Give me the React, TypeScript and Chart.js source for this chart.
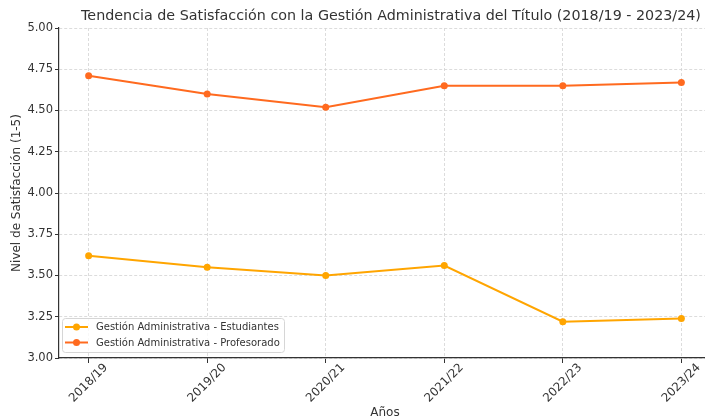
import React, { useEffect, useRef } from "react";
import { Chart, registerables } from "chart.js";

Chart.register(...registerables);

const years = ["2018/19", "2019/20", "2020/21", "2021/22", "2022/23", "2023/24"];
const estudiantes = [3.62, 3.55, 3.5, 3.56, 3.22, 3.24];
const profesorado = [4.71, 4.6, 4.52, 4.65, 4.65, 4.67];
const yTickValues = [3.0, 3.25, 3.5, 3.75, 4.0, 4.25, 4.5, 4.75, 5.0];
const seriesLabels = [
  "Gestión Administrativa - Estudiantes",
  "Gestión Administrativa - Profesorado",
];
const seriesColors = ["#FFA500", "#FF6A1F"];
const chartTitle =
  "Tendencia de Satisfacción con la Gestión Administrativa del Título (2018/19 - 2023/24)";
const xTitle = "Años";
const yTitle = "Nivel de Satisfacción (1-5)";

const FONT = "'DejaVu Sans', 'Liberation Sans', sans-serif";
const TEXT = "#333333";

const textPlugin = {
  id: "mplText",
  afterDraw(chart: any) {
    const ctx = chart.ctx as CanvasRenderingContext2D;
    const area = chart.chartArea;
    const xs = chart.scales.x;
    const cx = (area.left + area.right) / 2;
    ctx.save();
    ctx.fillStyle = TEXT;
    // title
    ctx.font = `14.3px ${FONT}`;
    ctx.textAlign = "center";
    ctx.textBaseline = "middle";
    ctx.fillText(chartTitle, 391, 16);
    // x tick labels
    ctx.font = `11.8px ${FONT}`;
    years.forEach((lab, i) => {
      const px = xs.getPixelForValue(i);
      ctx.save();
      ctx.translate(px, 383);
      ctx.rotate(-Math.PI / 4);
      ctx.textAlign = "center";
      ctx.textBaseline = "middle";
      ctx.fillText(lab, 0, 0);
      ctx.restore();
    });
    // x title
    ctx.font = `12px ${FONT}`;
    ctx.fillText(xTitle, cx, 413);
    // y title
    ctx.save();
    ctx.translate(17, (area.top + area.bottom) / 2);
    ctx.rotate(-Math.PI / 2);
    ctx.textAlign = "center";
    ctx.textBaseline = "middle";
    ctx.fillText(yTitle, 0, 0);
    ctx.restore();
    // legend
    const lx = 62.5, ly = 318.5, lw = 222, lh = 34, r = 3;
    ctx.beginPath();
    ctx.moveTo(lx + r, ly);
    ctx.lineTo(lx + lw - r, ly);
    ctx.quadraticCurveTo(lx + lw, ly, lx + lw, ly + r);
    ctx.lineTo(lx + lw, ly + lh - r);
    ctx.quadraticCurveTo(lx + lw, ly + lh, lx + lw - r, ly + lh);
    ctx.lineTo(lx + r, ly + lh);
    ctx.quadraticCurveTo(lx, ly + lh, lx, ly + lh - r);
    ctx.lineTo(lx, ly + r);
    ctx.quadraticCurveTo(lx, ly, lx + r, ly);
    ctx.closePath();
    ctx.fillStyle = "rgba(255,255,255,0.8)";
    ctx.fill();
    ctx.strokeStyle = "#d6d6d6";
    ctx.lineWidth = 1;
    ctx.stroke();
    ctx.font = `10px ${FONT}`;
    ctx.textAlign = "left";
    ctx.textBaseline = "middle";
    seriesLabels.forEach((lab, i) => {
      const y = 327 + i * 15.5;
      ctx.strokeStyle = seriesColors[i];
      ctx.lineWidth = 2;
      ctx.beginPath();
      ctx.moveTo(65, y);
      ctx.lineTo(88, y);
      ctx.stroke();
      ctx.fillStyle = seriesColors[i];
      ctx.beginPath();
      ctx.arc(76.5, y, 3.5, 0, Math.PI * 2);
      ctx.fill();
      ctx.fillStyle = TEXT;
      ctx.fillText(lab, 96, y + 0.5);
    });
    ctx.restore();
  },
};

export default function App() {
  const ref = useRef<HTMLCanvasElement | null>(null);
  useEffect(() => {
    if (!ref.current) return;
    const mk = (vals: number[]) => vals.map((v, i) => ({ x: i, y: v }));
    const chart = new Chart(ref.current, {
      type: "line",
      data: {
        datasets: [
          {
            label: seriesLabels[0],
            data: mk(estudiantes),
            borderColor: seriesColors[0],
            backgroundColor: seriesColors[0],
            borderWidth: 2,
            pointRadius: 3.5,
            pointBorderWidth: 0,
            pointBackgroundColor: seriesColors[0],
            tension: 0,
          },
          {
            label: seriesLabels[1],
            data: mk(profesorado),
            borderColor: seriesColors[1],
            backgroundColor: seriesColors[1],
            borderWidth: 2,
            pointRadius: 3.5,
            pointBorderWidth: 0,
            pointBackgroundColor: seriesColors[1],
            tension: 0,
          },
        ],
      },
      options: {
        responsive: false,
        animation: false,
        devicePixelRatio: 1,
        layout: { padding: { top: 28, right: 0, bottom: 0, left: 0 } },
        plugins: {
          legend: { display: false },
          title: { display: false },
          tooltip: { enabled: false },
        },
        scales: {
          x: {
            type: "linear",
            min: -0.25,
            max: 5.25,
            afterBuildTicks: (s: any) => {
              s.ticks = years.map((_, i) => ({ value: i }));
            },
            afterFit: (s: any) => {
              s.height = 61;
            },
            ticks: { display: false },
            grid: {
              color: "#d3d3d3",
              lineWidth: 0.8,
              tickLength: 5,
              tickColor: "#333333",
              tickWidth: 1,
              tickBorderDash: [],
            },
            border: { display: true, color: "#333333", width: 1.2, dash: [3, 2] },
          },
          y: {
            type: "linear",
            min: 3,
            max: 5,
            afterBuildTicks: (s: any) => {
              s.ticks = yTickValues.map((v) => ({ value: v }));
            },
            afterFit: (s: any) => {
              s.width = 59;
            },
            ticks: {
              color: TEXT,
              font: { family: FONT, size: 11.5 },
              padding: 2,
              callback: (v: any) => Number(v).toFixed(2),
            },
            grid: {
              color: "#d3d3d3",
              lineWidth: 0.8,
              tickLength: 4,
              tickColor: "#333333",
              tickWidth: 1,
              tickBorderDash: [],
            },
            border: { display: true, color: "#333333", width: 1.2, dash: [3, 2] },
          },
        },
      },
      plugins: [textPlugin],
    } as any);
    return () => chart.destroy();
  }, []);
  return (
    <div
      style={{
        position: "fixed",
        left: 0,
        top: 0,
        width: 705,
        height: 419,
        overflow: "hidden",
        background: "#ffffff",
      }}
    >
      <canvas ref={ref} width={715} height={419} style={{ width: 715, height: 419, display: "block" }} />
    </div>
  );
}
